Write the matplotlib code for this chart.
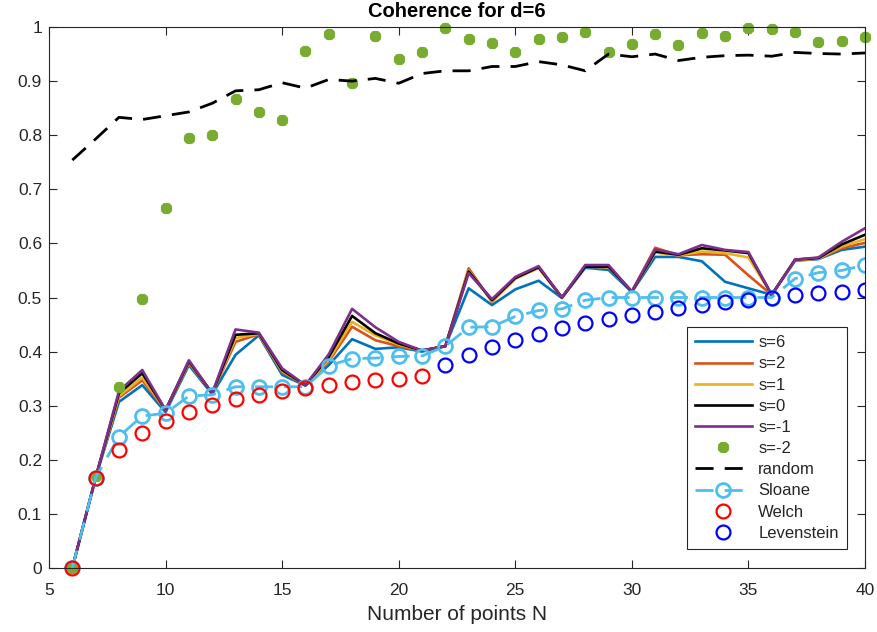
import matplotlib
matplotlib.use("Agg")
import matplotlib.pyplot as plt

plt.rcParams['font.family'] = ['Liberation Sans', 'DejaVu Sans']

N = list(range(6, 41))

s6 = [0, 0.167, 0.307, 0.338, 0.288, 0.375, 0.321, 0.394, 0.430, 0.357, 0.337, 0.375, 0.423, 0.405, 0.408,
      0.400, 0.410, 0.517, 0.486, 0.515, 0.531, 0.499, 0.555, 0.551, 0.510, 0.575, 0.575, 0.567, 0.529, 0.517,
      0.505, 0.568, 0.571, 0.588, 0.594]
s2 = [0, 0.167, 0.315, 0.347, 0.291, 0.379, 0.323, 0.418, 0.432, 0.362, 0.338, 0.382, 0.446, 0.421, 0.410,
      0.402, 0.410, 0.554, 0.492, 0.535, 0.555, 0.500, 0.557, 0.556, 0.511, 0.592, 0.578, 0.580, 0.579, 0.541,
      0.505, 0.569, 0.572, 0.591, 0.601]
s1 = [0, 0.167, 0.318, 0.352, 0.292, 0.380, 0.323, 0.425, 0.433, 0.364, 0.338, 0.385, 0.455, 0.430, 0.413,
      0.402, 0.410, 0.550, 0.493, 0.535, 0.555, 0.500, 0.557, 0.556, 0.511, 0.583, 0.578, 0.585, 0.582, 0.574,
      0.505, 0.569, 0.572, 0.594, 0.608]
s0 = [0, 0.167, 0.323, 0.360, 0.292, 0.382, 0.323, 0.431, 0.434, 0.366, 0.338, 0.390, 0.466, 0.434, 0.415,
      0.402, 0.410, 0.548, 0.495, 0.536, 0.556, 0.500, 0.557, 0.557, 0.511, 0.585, 0.579, 0.591, 0.587, 0.582,
      0.505, 0.570, 0.573, 0.598, 0.616]
sm1 = [0, 0.167, 0.327, 0.366, 0.292, 0.384, 0.323, 0.441, 0.435, 0.369, 0.338, 0.395, 0.479, 0.445, 0.418,
       0.402, 0.410, 0.545, 0.497, 0.538, 0.558, 0.500, 0.560, 0.560, 0.511, 0.589, 0.580, 0.597, 0.588, 0.584,
       0.505, 0.570, 0.574, 0.603, 0.628]
sm2 = [0, 0.170, 0.334, 0.497, 0.665, 0.794, 0.800, 0.866, 0.842, 0.828, 0.956, 0.987, 0.896, 0.983, 0.941,
       0.954, 0.998, 0.978, 0.971, 0.953, 0.978, 0.981, 0.991, 0.953, 0.968, 0.987, 0.966, 0.989, 0.984, 0.998,
       0.996, 0.990, 0.972, 0.975, 0.982]
random_vals = [0.754, 0.793, 0.833, 0.829, 0.836, 0.843, 0.859, 0.882, 0.884, 0.897, 0.887, 0.903, 0.900, 0.905,
               0.896, 0.914, 0.919, 0.919, 0.927, 0.927, 0.936, 0.930, 0.919, 0.950, 0.945, 0.950, 0.938, 0.944,
               0.947, 0.948, 0.946, 0.953, 0.951, 0.950, 0.952]
sloane = [0, 0.167, 0.243, 0.281, 0.286, 0.318, 0.320, 0.335, 0.335, 0.335, 0.335, 0.374, 0.387, 0.388, 0.391,
          0.392, 0.410, 0.445, 0.446, 0.465, 0.476, 0.479, 0.495, 0.500, 0.500, 0.500, 0.500, 0.500, 0.500, 0.500,
          0.500, 0.535, 0.546, 0.550, 0.560]

N_welch = list(range(6, 22))
welch = [0, 0.167, 0.218, 0.250, 0.272, 0.289, 0.302, 0.312, 0.320, 0.327, 0.333, 0.338, 0.343, 0.347, 0.350, 0.354]
N_lev = list(range(22, 41))
lev = [0.375, 0.393, 0.408, 0.421, 0.433, 0.443, 0.452, 0.460, 0.468, 0.474, 0.480, 0.486, 0.491, 0.496, 0.500,
       0.504, 0.508, 0.511, 0.514]

xticks = [5, 10, 15, 20, 25, 30, 35, 40]
yticks = [0, 0.1, 0.2, 0.3, 0.4, 0.5, 0.6, 0.7, 0.8, 0.9, 1.0]
ytick_labels = ['0', '0.1', '0.2', '0.3', '0.4', '0.5', '0.6', '0.7', '0.8', '0.9', '1']

axc = '#262626'
fig = plt.figure(figsize=(8.78, 6.32), dpi=100)
ax = fig.add_axes([49/878, 64/632, (865-49)/878, (568-27)/632])

lw = 1.9
ax.plot(N, s6, color='#0072BD', lw=lw, label='s=6')
ax.plot(N, s2, color='#D95319', lw=lw, label='s=2')
ax.plot(N, s1, color='#EDB120', lw=lw, label='s=1')
ax.plot(N, s0, color='black', lw=lw, label='s=0')
ax.plot(N, sm1, color='#7E2F8E', lw=lw, label='s=-1')
ax.plot(N, sm2, linestyle='none', marker=(8, 2, 0), color='#77AC30', markersize=8, markeredgewidth=2.6,
        label='s=-2', clip_on=False)
ax.plot(N, random_vals, color='black', lw=2.0, linestyle=(0, (6.5, 4)), label='random')
ax.plot(N, sloane, color='#4DBEEE', lw=2.0, linestyle=(0, (6.5, 4)), marker='o', markersize=10,
        markerfacecolor='none', markeredgewidth=2.0, label='Sloane')
ax.plot(N_welch, welch, linestyle='none', marker='o', markersize=10, markerfacecolor='none',
        markeredgecolor='red', markeredgewidth=1.6, label='Welch', clip_on=False)
ax.plot(N_lev, lev, linestyle='none', marker='o', markersize=10, markerfacecolor='none',
        markeredgecolor='blue', markeredgewidth=1.6, label='Levenstein')

ax.set_xlim(5, 40)
ax.set_ylim(0, 1)
ax.set_xticks(xticks)
ax.set_yticks(yticks)
ax.set_yticklabels(ytick_labels)
ax.tick_params(direction='in', length=6, width=0.8, top=True, right=True, labelsize=12.5,
               colors=axc, labelcolor=axc)
ax.tick_params(axis='x', pad=10.5)
ax.tick_params(axis='y', pad=5)
for sp in ax.spines.values():
    sp.set_color(axc)
    sp.set_linewidth(0.8)

ax.set_xlabel('Number of points N', fontsize=15, color=axc, labelpad=5)
ax.set_title('Coherence for d=6', fontsize=14.5, fontweight='bold', color='black', pad=7)

leg = ax.legend(loc='lower right', bbox_to_anchor=(0.978, 0.035), fontsize=12, frameon=True,
                fancybox=False, framealpha=1, edgecolor=axc, handlelength=3.4, labelspacing=0.37,
                borderpad=0.5, handletextpad=0.4, borderaxespad=0)
leg.get_frame().set_linewidth(0.8)
for t in leg.get_texts():
    t.set_color(axc)

fig.savefig('out.png', dpi=100)
